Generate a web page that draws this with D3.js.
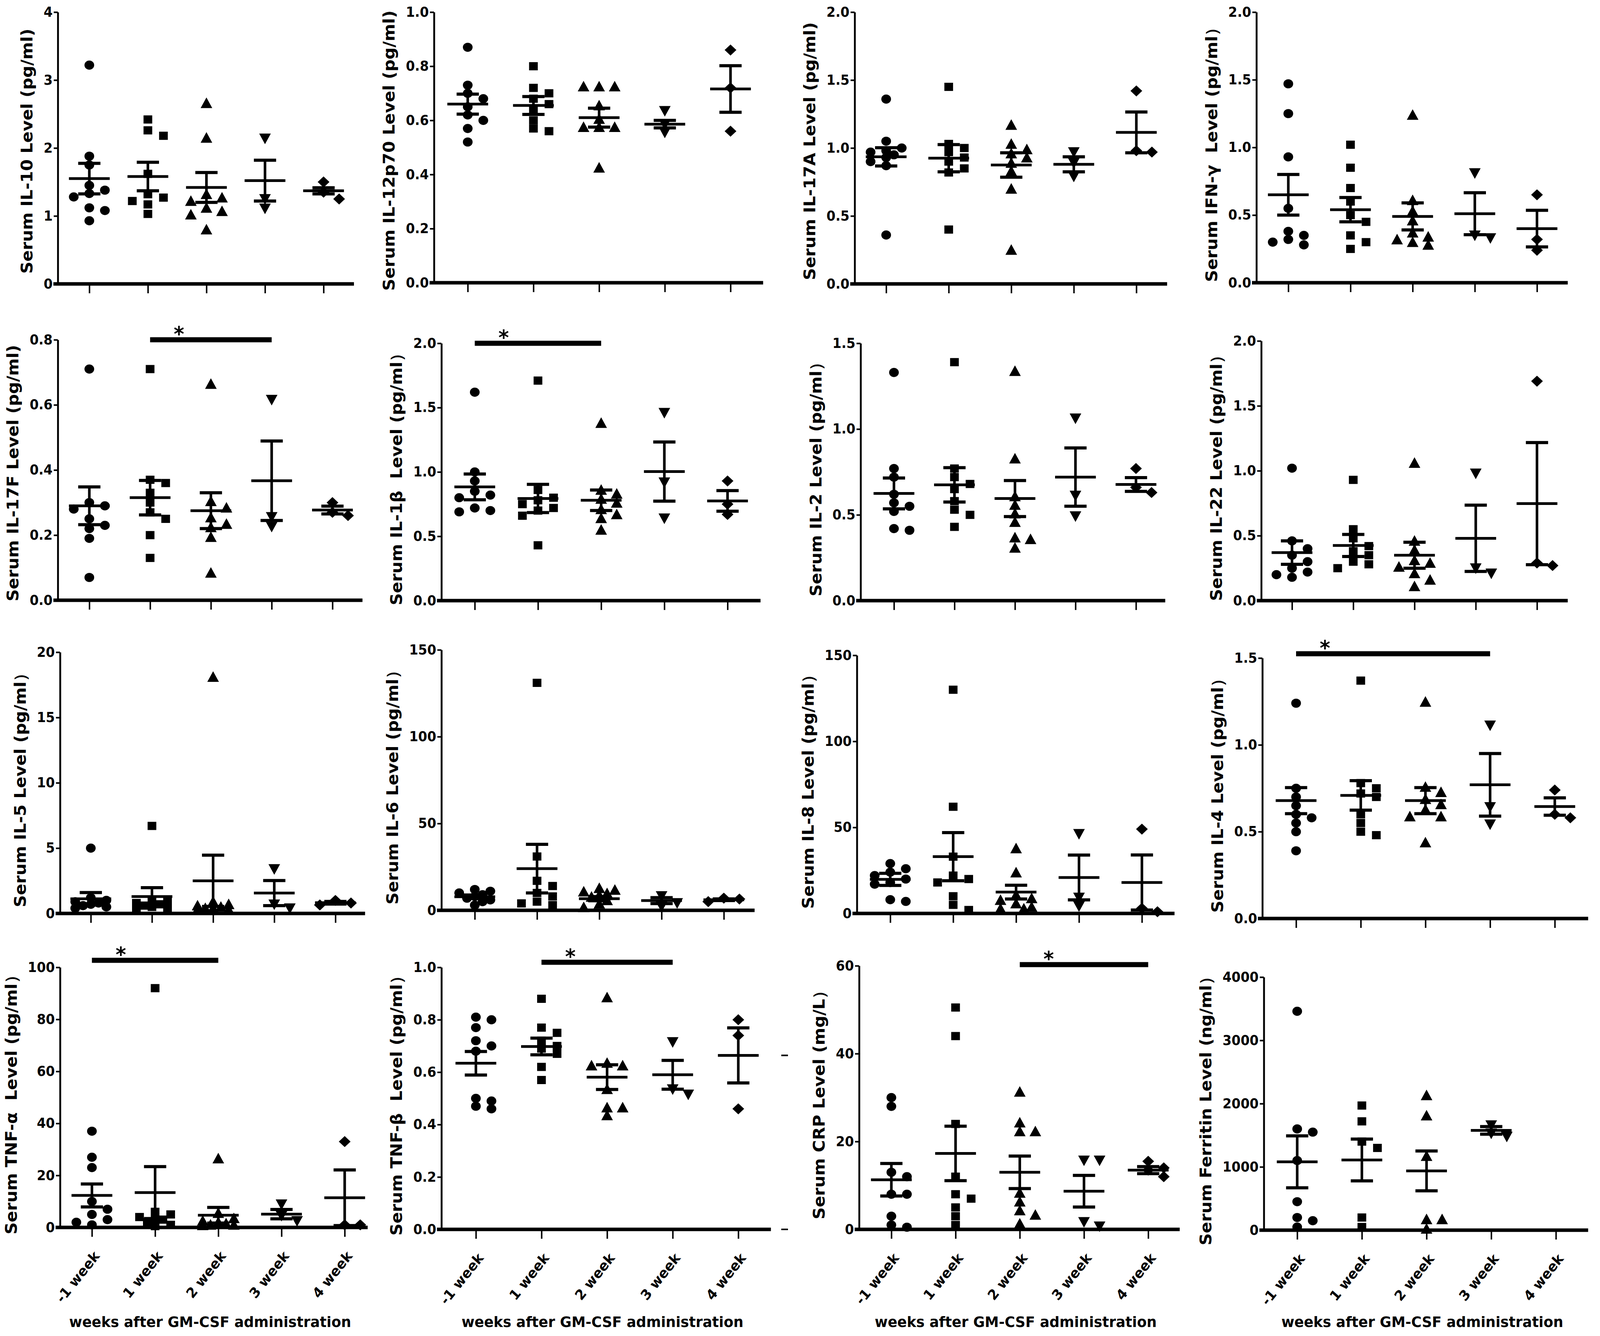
<!DOCTYPE html>
<html>
<head>
<meta charset="utf-8">
<script src="https://cdn.jsdelivr.net/npm/d3@7"></script>
<style>
  html, body { margin: 0; padding: 0; background: #fff; overflow: hidden; }
  svg { display: block; width: 100vw; height: 100vh; }
</style>
</head>
<body>
<div id="chart"></div>
<script>
"use strict";

/* ---------- data ---------- */
const weeks = ["-1 week", "1 week", "2 week", "3 week", "4 week"];
const weekSymbols = ["circle", "square", "triangle", "down", "diamond"];

const panelLabels = [
  "Serum IL-10 Level (pg/ml)", "Serum IL-12p70 Level (pg/ml)", "Serum IL-17A Level (pg/ml)", "Serum IFN-γ  Level (pg/ml）",
  "Serum IL-17F Level (pg/ml)", "Serum IL-1β  Level (pg/ml）", "Serum IL-2 Level (pg/ml）", "Serum IL-22 Level (pg/ml）",
  "Serum IL-5 Level (pg/ml）", "Serum IL-6 Level (pg/ml）", "Serum IL-8 Level (pg/ml）", "Serum IL-4 Level (pg/ml）",
  "Serum TNF-α  Level (pg/ml）", "Serum TNF-β  Level (pg/ml）", "Serum CRP Level (mg/L）", "Serum Ferritin Level (ng/ml）"
];
const yMax  = [4, 1, 2, 2,   0.8, 2, 1.5, 2,   20, 150, 150, 1.5,   100, 1, 60, 4000];
const yStep = [1, 0.2, 0.5, 0.5,   0.2, 0.5, 0.5, 0.5,   5, 50, 50, 0.5,   20, 0.2, 20, 1000];

const il10 = [
  [3.22, 1.88, 1.75, 1.45, 1.38, 1.33, 1.28, 1.12, 1.08, 0.93],
  [2.42, 2.26, 2.18, 1.62, 1.32, 1.27, 1.22, 1.17, 1.03],
  [2.64, 2.13, 1.30, 1.25, 1.20, 1.10, 1.05, 1.00, 0.78],
  [2.16, 1.27, 1.13],
  [1.50, 1.35, 1.25]
];
const il10Mean = [1.55, 1.58, 1.42, 1.52, 1.37];
const il10Sem = [0.225, 0.21, 0.22, 0.30, 0.045];

const il12 = [
  [0.87, 0.73, 0.70, 0.68, 0.65, 0.62, 0.60, 0.57, 0.52],
  [0.80, 0.72, 0.70, 0.68, 0.66, 0.64, 0.60, 0.57, 0.56],
  [0.72, 0.72, 0.72, 0.65, 0.60, 0.57, 0.57, 0.57, 0.42],
  [0.64, 0.59, 0.56],
  [0.86, 0.72, 0.56]
];
const il12Mean = [0.66, 0.655, 0.61, 0.586, 0.716];
const il12Sem = [0.037, 0.033, 0.035, 0.014, 0.086];

const il17a = [
  [1.36, 1.05, 1.00, 0.98, 0.97, 0.95, 0.93, 0.90, 0.87, 0.36],
  [1.45, 1.03, 1.00, 0.97, 0.93, 0.90, 0.85, 0.82, 0.40],
  [1.16, 1.02, 0.98, 0.95, 0.92, 0.88, 0.82, 0.69, 0.24],
  [0.98, 0.90, 0.80],
  [1.42, 0.98, 0.97]
];
const il17aMean = [0.935, 0.925, 0.875, 0.88, 1.115];
const il17aSem = [0.067, 0.10, 0.09, 0.055, 0.15];

const ifng = [
  [1.47, 1.25, 0.93, 0.55, 0.38, 0.35, 0.32, 0.30, 0.28],
  [1.02, 0.85, 0.70, 0.60, 0.50, 0.45, 0.35, 0.30, 0.25],
  [1.23, 0.60, 0.52, 0.45, 0.36, 0.33, 0.31, 0.29, 0.27],
  [0.82, 0.36, 0.34],
  [0.65, 0.32, 0.24]
];
const ifngMean = [0.65, 0.54, 0.49, 0.51, 0.40];
const ifngSem = [0.15, 0.09, 0.10, 0.155, 0.135];

const il17f = [
  [0.71, 0.30, 0.29, 0.28, 0.25, 0.23, 0.22, 0.19, 0.07],
  [0.71, 0.37, 0.36, 0.33, 0.30, 0.27, 0.25, 0.20, 0.13],
  [0.66, 0.30, 0.28, 0.25, 0.23, 0.22, 0.19, 0.08],
  [0.62, 0.26, 0.23],
  [0.30, 0.27, 0.26]
];
const il17fMean = [0.29, 0.315, 0.275, 0.367, 0.277];
const il17fSem = [0.058, 0.053, 0.055, 0.122, 0.012];

const il1b = [
  [1.62, 1.00, 0.93, 0.85, 0.82, 0.80, 0.72, 0.70, 0.69],
  [1.71, 0.86, 0.80, 0.78, 0.75, 0.72, 0.70, 0.66, 0.43],
  [1.37, 0.85, 0.82, 0.78, 0.75, 0.70, 0.66, 0.63, 0.54],
  [1.47, 0.93, 0.65],
  [0.93, 0.75, 0.67]
];
const il1bMean = [0.884, 0.794, 0.78, 1.003, 0.775];
const il1bSem = [0.10, 0.11, 0.08, 0.23, 0.08];

const il2 = [
  [1.33, 0.77, 0.72, 0.62, 0.57, 0.55, 0.52, 0.42, 0.41],
  [1.39, 0.77, 0.72, 0.68, 0.65, 0.58, 0.53, 0.50, 0.43],
  [1.33, 0.82, 0.60, 0.55, 0.50, 0.45, 0.36, 0.35, 0.30],
  [1.07, 0.62, 0.50],
  [0.77, 0.66, 0.63]
];
const il2Mean = [0.625, 0.675, 0.595, 0.72, 0.677];
const il2Sem = [0.09, 0.10, 0.105, 0.17, 0.04];

const il22 = [
  [1.02, 0.46, 0.40, 0.35, 0.30, 0.25, 0.22, 0.20, 0.18],
  [0.93, 0.55, 0.48, 0.42, 0.38, 0.35, 0.30, 0.28, 0.25],
  [1.05, 0.45, 0.38, 0.30, 0.28, 0.25, 0.20, 0.15, 0.10],
  [0.99, 0.26, 0.22],
  [1.69, 0.29, 0.27]
];
const il22Mean = [0.37, 0.425, 0.35, 0.48, 0.747];
const il22Sem = [0.09, 0.085, 0.10, 0.255, 0.47];

const il5 = [
  [5.0, 1.2, 1.0, 0.9, 0.8, 0.7, 0.6, 0.5, 0.4],
  [6.7, 1.0, 0.9, 0.8, 0.7, 0.6, 0.5, 0.4, 0.3],
  [18.0, 0.8, 0.6, 0.5, 0.4, 0.3, 0.3, 0.2, 0.2],
  [3.5, 0.8, 0.5],
  [1.0, 0.8, 0.65]
];
const il5Mean = [1.12, 1.29, 2.5, 1.56, 0.82];
const il5Sem = [0.48, 0.68, 1.96, 0.96, 0.10];

const il6 = [
  [12, 11, 10, 9, 8, 7, 6, 5, 3],
  [131, 31, 17, 14, 10, 8, 5, 4, 3],
  [12, 11, 10, 9, 8, 7, 5, 3, 1],
  [9, 5, 3],
  [7, 6.5, 5]
];
const il6Mean = [7.8, 24, 6.7, 5.6, 6.1];
const il6Sem = [1.0, 14, 1.2, 1.7, 0.5];

const il8 = [
  [29, 26, 24, 22, 20, 18, 17, 8, 7],
  [130, 62, 33, 22, 20, 18, 10, 5, 2],
  [37, 23, 10, 8, 7, 5, 3, 2, 2],
  [47, 10, 5],
  [49, 3, 1]
];
const il8Mean = [19.8, 33, 12.4, 20.9, 18];
const il8Sem = [3.5, 14, 4, 13, 16];

const il4 = [
  [1.24, 0.75, 0.70, 0.65, 0.60, 0.58, 0.55, 0.50, 0.39],
  [1.37, 0.78, 0.75, 0.72, 0.70, 0.60, 0.55, 0.50, 0.48],
  [1.24, 0.75, 0.72, 0.68, 0.65, 0.62, 0.58, 0.58, 0.43],
  [1.12, 0.65, 0.55],
  [0.74, 0.60, 0.58]
];
const il4Mean = [0.679, 0.709, 0.679, 0.77, 0.645];
const il4Sem = [0.075, 0.085, 0.075, 0.18, 0.05];

const tnfa = [
  [37, 27, 23, 10, 7, 5, 3, 2, 1],
  [92, 6, 5, 4, 3, 3, 2, 1, 0.5],
  [26, 5, 3, 2, 1.5, 1, 0.5, 0.5, 0.3],
  [9.4, 5, 3],
  [33, 1, 1]
];
const tnfaMean = [12.3, 13.4, 4.7, 5.1, 11.4];
const tnfaSem = [4.4, 10, 3, 1.8, 10.7];

const tnfb = [
  [0.81, 0.80, 0.77, 0.72, 0.70, 0.68, 0.50, 0.49, 0.47, 0.46],
  [0.88, 0.77, 0.75, 0.72, 0.70, 0.69, 0.67, 0.62, 0.57],
  [0.88, 0.63, 0.62, 0.62, 0.53, 0.46, 0.46, 0.43],
  [0.72, 0.54, 0.52],
  [0.80, 0.74, 0.46]
];
const tnfbMean = [0.634, 0.698, 0.581, 0.59, 0.664];
const tnfbSem = [0.045, 0.032, 0.047, 0.055, 0.105];

const crp = [
  [30, 28, 13, 12, 8, 8, 3, 1, 0.5],
  [50.5, 44, 24, 12, 8, 7, 5, 3, 1],
  [31, 24, 22, 22, 8, 6, 4, 3, 1],
  [16, 16, 2, 1],
  [15.5, 14, 13.5, 12]
];
const crpMean = [11.3, 17.3, 13, 8.7, 13.5];
const crpSem = [3.7, 6.2, 3.7, 3.6, 0.8];

const ferritin = [
  [3460, 1600, 1550, 1100, 450, 200, 150, 50],
  [1970, 1720, 1400, 1300, 200, 50],
  [2110, 1790, 1150, 150, 150, 0],
  [1680, 1550, 1500],
  []
];
const ferritinMean = [1080, 1110, 937, 1577, null];
const ferritinSem = [410, 330, 315, 60, null];

const panelValues = [il10, il12, il17a, ifng, il17f, il1b, il2, il22, il5, il6, il8, il4, tnfa, tnfb, crp, ferritin];
const panelMeans = [il10Mean, il12Mean, il17aMean, ifngMean, il17fMean, il1bMean, il2Mean, il22Mean,
  il5Mean, il6Mean, il8Mean, il4Mean, tnfaMean, tnfbMean, crpMean, ferritinMean];
const panelSems = [il10Sem, il12Sem, il17aSem, ifngSem, il17fSem, il1bSem, il2Sem, il22Sem,
  il5Sem, il6Sem, il8Sem, il4Sem, tnfaSem, tnfbSem, crpSem, ferritinSem];

/* significance: panel, from week, to week */
const sigPanel = [4, 5, 11, 12, 13, 14];
const sigFrom = [1, 0, 0, 0, 1, 2];
const sigTo = [3, 2, 3, 2, 3, 4];

/* ---------- layout (pixels) ---------- */
const W = 4317, H = 3421;
const FONT = "'DejaVu Sans', 'Liberation Sans', Arial, sans-serif";
const axisX     = [156, 1171, 2306, 3390,  156, 1191, 2322, 3403,  162, 1191, 2312, 3406,  162, 1191, 2318, 3410];
const catFirstX = [241, 1262, 2391, 3476,  241, 1281, 2412, 3486,  245, 1281, 2402, 3497,  248, 1284, 2405, 3500];
const catLastX  = [873, 1971, 3066, 4147,  897, 1963, 3065, 4147,  905, 1953, 3081, 4195,  930, 1992, 3098, 4198];
const axisEnd   = [955, 2059, 3149, 4230,  978, 2052, 3144, 4230,  985, 2036, 3169, 4285,  992, 2080, 3183, 4285];
const plotTop   = [31, 31, 31, 31,  870, 879, 879, 873,  1670, 1664, 1678, 1685,  2477, 2477, 2473, 2502];
const plotBottom = [727, 724, 727, 724,  1537, 1538, 1538, 1538,  2339, 2331, 2339, 2352,  3143, 3148, 3148, 3150];
const sigLift = [0, 0, 11, 18, 13, 3];

const svg = d3.select("#chart")
  .append("svg")
  .attr("viewBox", "0 0 " + W + " " + H)
  .attr("preserveAspectRatio", "none");

svg.append("rect")
  .attr("width", W)
  .attr("height", H)
  .attr("fill", "#fff");

/* marker shapes */
const symCircle = d3.symbol(d3.symbolCircle, 430)();
const symSquare = d3.symbol(d3.symbolSquare, 440)();
const symTriangle = d3.symbol(d3.symbolTriangle, 340)();
const symDiamond = d3.symbol(d3.symbolSquare, 400)();

function markerPath(kind) {
  if (kind === "circle") return symCircle;
  if (kind === "square") return symSquare;
  if (kind === "diamond") return symDiamond;
  return symTriangle;
}
function markerTransform(kind, px, py) {
  let t = "translate(" + px + "," + py + ") scale(1.12,1)";
  if (kind === "down") t += " rotate(180)";
  if (kind === "diamond") t += " rotate(45)";
  if (kind === "triangle" || kind === "down") t += " scale(1,1.12)";
  return t;
}

/* compact scatter: side by side where values meet, overlap when crowded */
const swarmOffsets = [0, 21, -21, 42, -42];
function swarm(vals, cx, y) {
  let placed = [];
  let sorted = vals.slice().sort(function (a, b) { return b - a; });
  for (let i = 0; i < sorted.length; i++) {
    let py = y(sorted[i]);
    let best = cx, bestScore = -1;
    for (let k = 0; k < swarmOffsets.length; k++) {
      let px = cx + swarmOffsets[k];
      let score = d3.min(placed, function (q) {
        return Math.max(Math.abs(q[0] - px) / 24, Math.abs(q[1] - py) / 20);
      });
      if (score === undefined) score = 9;
      if (score >= 1) { best = px; bestScore = score; break; }
      if (score > bestScore + 0.05) { best = px; bestScore = score; }
    }
    placed.push([best, py]);
  }
  return placed;
}

for (let p = 0; p < 16; p++) {
  let row = Math.floor(p / 4);
  let g = svg.append("g");

  let y = d3.scaleLinear().domain([0, yMax[p]]).range([plotBottom[p], plotTop[p]]);
  let x = d3.scalePoint().domain(weeks).range([catFirstX[p], catLastX[p]]);

  /* Y axis */
  let ticks = d3.range(0, yMax[p] + yStep[p] / 2, yStep[p]);
  let fmt = yStep[p] < 1 ? d3.format(".1f") : d3.format("d");
  let yAxis = g.append("g")
    .attr("transform", "translate(" + axisX[p] + ",0)")
    .call(d3.axisLeft(y).tickValues(ticks).tickFormat(fmt).tickSize(11).tickPadding(3).tickSizeOuter(0));
  yAxis.select(".domain").attr("stroke-width", 5);
  yAxis.selectAll(".tick line").attr("stroke-width", 4);
  yAxis.selectAll("text")
    .attr("font-family", FONT)
    .attr("font-weight", "bold")
    .attr("font-size", 35)
    .attr("fill", "#000");

  let maxW = d3.max(yAxis.selectAll("text").nodes(), function (n) { return n.getComputedTextLength(); });
  let labelX = axisX[p] - 14 - maxW - 30;
  g.append("text")
    .attr("transform", "translate(" + labelX + "," + ((plotTop[p] + plotBottom[p]) / 2 + 8) + ") rotate(-90)")
    .attr("text-anchor", "middle")
    .attr("font-family", FONT)
    .attr("font-weight", "bold")
    .attr("font-size", 43)
    .style("white-space", "pre")
    .text(panelLabels[p]);

  /* X axis */
  g.append("line")
    .attr("x1", axisX[p] - 12)
    .attr("x2", axisEnd[p])
    .attr("y1", plotBottom[p])
    .attr("y2", plotBottom[p])
    .attr("stroke", "#000")
    .attr("stroke-width", 9);

  let xAxis = g.append("g")
    .attr("transform", "translate(0," + plotBottom[p] + ")")
    .call(d3.axisBottom(x).tickSize(24).tickSizeOuter(0)
      .tickFormat(row === 3 ? function (d) { return d; } : function () { return ""; }));
  xAxis.select(".domain").remove();
  xAxis.selectAll(".tick line").attr("stroke-width", 4);
  if (row === 3) {
    xAxis.selectAll("text")
      .attr("y", 0)
      .attr("dy", 0)
      .attr("transform", "translate(22,74) rotate(-50)")
      .attr("text-anchor", "end")
      .attr("font-family", FONT)
      .attr("font-weight", "bold")
      .attr("font-size", 36)
      .attr("fill", "#000");

    g.append("text")
      .attr("x", (axisX[p] + axisEnd[p]) / 2 - 10)
      .attr("y", 3398)
      .attr("text-anchor", "middle")
      .attr("font-family", FONT)
      .attr("font-weight", "bold")
      .attr("font-size", 38)
      .text("weeks after GM-CSF administration");
  }

  /* points */
  for (let w = 0; w < weeks.length; w++) {
    let cx = x(weeks[w]);
    let kind = weekSymbols[w];
    let pos = swarm(panelValues[p][w], cx, y);
    g.selectAll(null)
      .data(pos)
      .enter()
      .append("path")
      .attr("d", markerPath(kind))
      .attr("transform", function (d) { return markerTransform(kind, d[0], d[1]); })
      .attr("fill", "#000");

    /* mean and SEM */
    let m = panelMeans[p][w];
    if (m === null) continue;
    let s = panelSems[p][w];
    let yHi = y(m + s);
    let yLo = y(Math.max(0, m - s));
    g.append("line")
      .attr("x1", cx).attr("x2", cx)
      .attr("y1", yHi).attr("y2", yLo)
      .attr("stroke", "#000").attr("stroke-width", 7);
    [yHi, yLo].forEach(function (yy) {
      g.append("line")
        .attr("x1", cx - 30).attr("x2", cx + 30)
        .attr("y1", yy).attr("y2", yy)
        .attr("stroke", "#000").attr("stroke-width", 8);
    });
    g.append("line")
      .attr("x1", cx - 55).attr("x2", cx + 55)
      .attr("y1", y(m)).attr("y2", y(m))
      .attr("stroke", "#000").attr("stroke-width", 7);
  }

  /* significance bar */
  let si = sigPanel.indexOf(p);
  if (si >= 0) {
    let x1 = x(weeks[sigFrom[si]]);
    let x2 = x(weeks[sigTo[si]]);
    let by = plotTop[p] - sigLift[si];
    g.append("line")
      .attr("x1", x1).attr("x2", x2)
      .attr("y1", by).attr("y2", by)
      .attr("stroke", "#000").attr("stroke-width", 13);
    g.append("text")
      .attr("x", x1 + 78)
      .attr("y", by + 4)
      .attr("text-anchor", "middle")
      .attr("font-family", FONT)
      .attr("font-weight", "bold")
      .attr("font-size", 54)
      .text("*");
  }

  /* stray edge dashes beside TNF-beta panel */
  if (p === 13) {
    [y(panelMeans[p][4]), plotBottom[p]].forEach(function (yy) {
      g.append("line")
        .attr("x1", axisEnd[p] + 28).attr("x2", axisEnd[p] + 46)
        .attr("y1", yy).attr("y2", yy)
        .attr("stroke", "#000").attr("stroke-width", 4);
    });
  }
}
</script>
</body>
</html>
